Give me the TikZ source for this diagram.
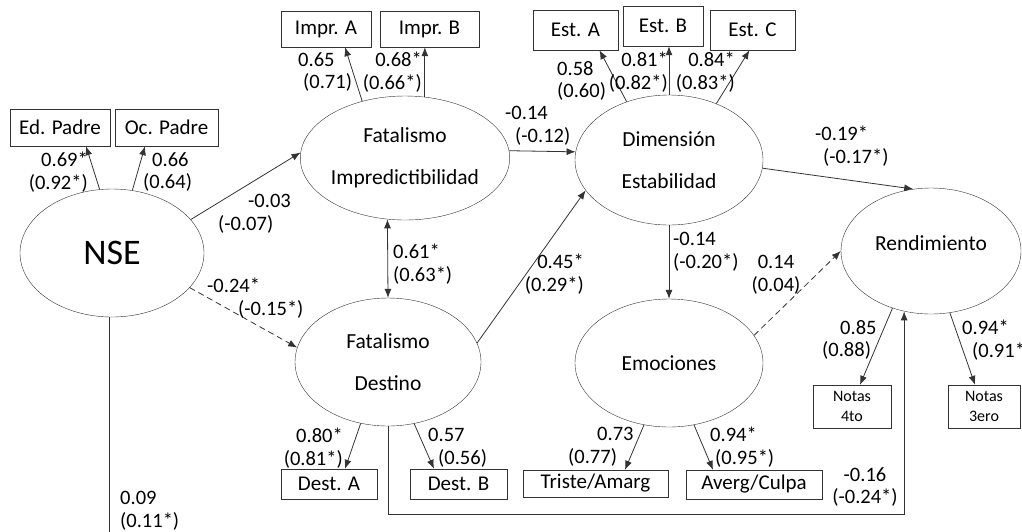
\documentclass[tikz,border=0pt]{standalone}
\usepackage{fontspec}
\setmainfont{Carlito}
\usepackage{tikz}
\usetikzlibrary{shapes.geometric,arrows.meta}

\begin{document}
\begin{tikzpicture}[x=1pt,y=-1pt,>={Latex[length=9pt,width=7pt]}]
\tikzset{
latent/.style={
  ellipse,
  draw=black!80,
  inner sep=0pt,
  align=center,
  font=\fontsize{21.5}{42}\selectfont
  },
obs/.style={
  draw=black!80,
  rectangle,
  inner sep=0pt,
  align=center,
  font=\fontsize{21}{22}\selectfont
  },
coef/.style={
  inner sep=0pt,
  font=\fontsize{20.5}{22.5}\selectfont
  },
path/.style={draw=black!80, line width=0.8pt, ->},
weak/.style={path, dash pattern=on 6pt off 4pt}
}
\useasboundingbox (0,0) rectangle (1022,531);

% latent variables
\node (nse) [latent, minimum width=184pt, minimum height=128pt,
             font=\fontsize{36}{40}\selectfont] at (112,253) {NSE};
\node (fi)  [latent, minimum width=204pt, minimum height=124pt] at (405,158) {Fatalismo\\Impredictibilidad};
\node (fd)  [latent, minimum width=186pt, minimum height=128pt] at (388,362) {Fatalismo\\Destino};
\node (de)  [latent, minimum width=188pt, minimum height=130pt] at (669,160) {Dimensión\\Estabilidad};
\node (em)  [latent, minimum width=188pt, minimum height=128pt] at (669,363) {Emociones};
\node (ren) [latent, minimum width=180pt, minimum height=126pt, text depth=15pt] at (931,251) {Rendimiento};

% indicators
\node (edp) [obs, minimum width=100pt, minimum height=37pt] at (60,127.5)   {Ed. Padre};
\node (ocp) [obs, minimum width=103pt, minimum height=37pt] at (166.5,127.5) {Oc. Padre};
\node (ia)  [obs, minimum width=90pt,  minimum height=36pt] at (326,29)    {Impr. A};
\node (ib)  [obs, minimum width=99pt,  minimum height=36pt] at (429.5,29)  {Impr. B};
\node (ea)  [obs, minimum width=85pt,  minimum height=40pt] at (575.5,30)  {Est. A};
\node (eb)  [obs, minimum width=80pt,  minimum height=40pt] at (663,26)    {Est. B};
\node (ec)  [obs, minimum width=85pt,  minimum height=40pt] at (752.5,30)  {Est. C};
\node (da)  [obs, minimum width=96pt,  minimum height=30pt] at (329,484)   {Dest. A};
\node (db)  [obs, minimum width=97pt,  minimum height=30pt] at (458.5,484) {Dest. B};
\node (ta)  [obs, minimum width=145pt, minimum height=27pt] at (595.5,483.5) {Triste/Amarg};
\node (ac)  [obs, minimum width=136pt, minimum height=29pt] at (754,484.5) {Averg/Culpa};
\node (n4)  [obs, minimum width=78pt,  minimum height=43pt,
             font=\fontsize{16}{20}\selectfont] at (852,406.5) {Notas\\4to};
\node (n3)  [obs, minimum width=72pt,  minimum height=43pt,
             font=\fontsize{16}{20}\selectfont] at (984,406.5) {Notas\\3ero};

\coordinate (nsecut) at (110,540);

% loadings
\draw[path] (nse.101) -- ([xshift=26pt]edp.south);
\draw[path] (nse.72)  -- ([xshift=-21.5pt]ocp.south);
\draw[path] (fi.127)  -- ([xshift=19pt]ia.south);
\draw[path] (fi.72)   -- (fi.72 |- ib.south);
\draw[path] (de.126)  -- ([xshift=24pt]ea.south);
\draw[path] (de.north) -- (de.north |- eb.south);
\draw[path] (de.50)   -- ([xshift=-3pt]ec.south);
\draw[path] (fd.-114) -- ([xshift=16pt]da.north);
\draw[path] (fd.-67)  -- ([xshift=-24.5pt]db.north);
\draw[path] (em.-112) -- ([xshift=29.5pt]ta.north);
\draw[path] (em.-68)  -- ([xshift=-41pt]ac.north);
\draw[path] (ren.-124) -- ([xshift=8pt]n4.north);
\draw[path] (ren.-73)  -- ([xshift=-9pt]n3.north);

% structural paths
\draw[path] (nse.23)  -- (fi.177);
\draw[weak] (nse.-24) -- (fd.171);
\draw[path, <->] (fi.-106) -- (fd.north);
\draw[path] (fi.4)    -- (de.175);
\draw[path] (fd.12)   -- (de.200);
\draw[path] (de.south) -- (em.north);
\draw[path] (de.-5)   -- (ren.106);
\draw[weak] (em.18)   -- (ren.west);
\draw[path] (fd.south) -- ++(0,88) -| (ren.-114);
\draw[draw=black!80, line width=0.8pt] (nse.-92) -- (nse.-92 |- nsecut);

% coefficients
\node (c-edp) [coef, anchor=east, align=right] at (88,172)  {0.69*\\(0.92*)};
\node (c-ocp) [coef, anchor=west, align=left]  at (143,172) {\hspace*{9pt}0.66\\(0.64)};
\node (c-nfi) [coef, anchor=west, align=left]  at (218,214) {\hspace*{30pt}-0.03\\(-0.07)};
\node (c-nfd) [coef, anchor=west, align=left]  at (207,298) {-0.24*\\\hspace*{31pt}(-0.15*)};
\node (c-ia)  [coef, anchor=west, align=left]  at (298,72)  {0.65\\\hspace*{5pt}(0.71)};
\node (c-ib)  [coef, anchor=east, align=right] at (422,72)  {0.68*\\(0.66*)};
\node (c-fde) [coef, anchor=west, align=left]  at (505,126) {-0.14\\\hspace*{10pt}(-0.12)};
\node (c-ea)  [coef, anchor=west, align=left]  at (557,81)  {0.58\\(0.60)};
\node (c-eb)  [coef, anchor=east, align=right] at (668,72)  {0.81*\\(0.82*)};
\node (c-ec)  [coef, anchor=east, align=right] at (735,72)  {0.84*\\(0.83*)};
\node (c-der) [coef, anchor=west, align=left]  at (815,146) {-0.19*\\\hspace*{8pt}(-0.17*)};
\node (c-cor) [coef, anchor=west, align=left]  at (393,264) {0.61*\\(0.63*)};
\node (c-dde) [coef, anchor=east, align=right] at (584,274) {0.45*\\(0.29*)};
\node (c-dem) [coef, anchor=west, align=left]  at (673,252) {-0.14\\(-0.20*)};
\node (c-emr) [coef, align=center]             at (776,275) {0.14\\(0.04)};
\node (c-da)  [coef, anchor=east, align=right] at (343,448) {0.80*\\(0.81*)};
\node (c-db)  [coef, anchor=west, align=left]  at (428,448) {0.57\\\hspace*{10pt}(0.56)};
\node (c-ta)  [coef, anchor=west, align=left]  at (568,447) {\hspace*{29pt}0.73\\(0.77)};
\node (c-ac)  [coef, anchor=west, align=left]  at (710,447) {0.94*\\\hspace*{5pt}(0.95*)};
\node (c-n4)  [coef, anchor=west, align=left]  at (822,340) {\hspace*{18pt}0.85\\(0.88)};
\node (c-n3)  [coef, anchor=west, align=left]  at (962,340) {0.94*\\\hspace*{10pt}(0.91*)};
\node (c-fdr) [coef, align=center]             at (865,487) {-0.16\\(-0.24*)};
\node (c-nr)  [coef, anchor=west, align=left]  at (120,511) {0.09\\(0.11*)};

\end{tikzpicture}
\end{document}
